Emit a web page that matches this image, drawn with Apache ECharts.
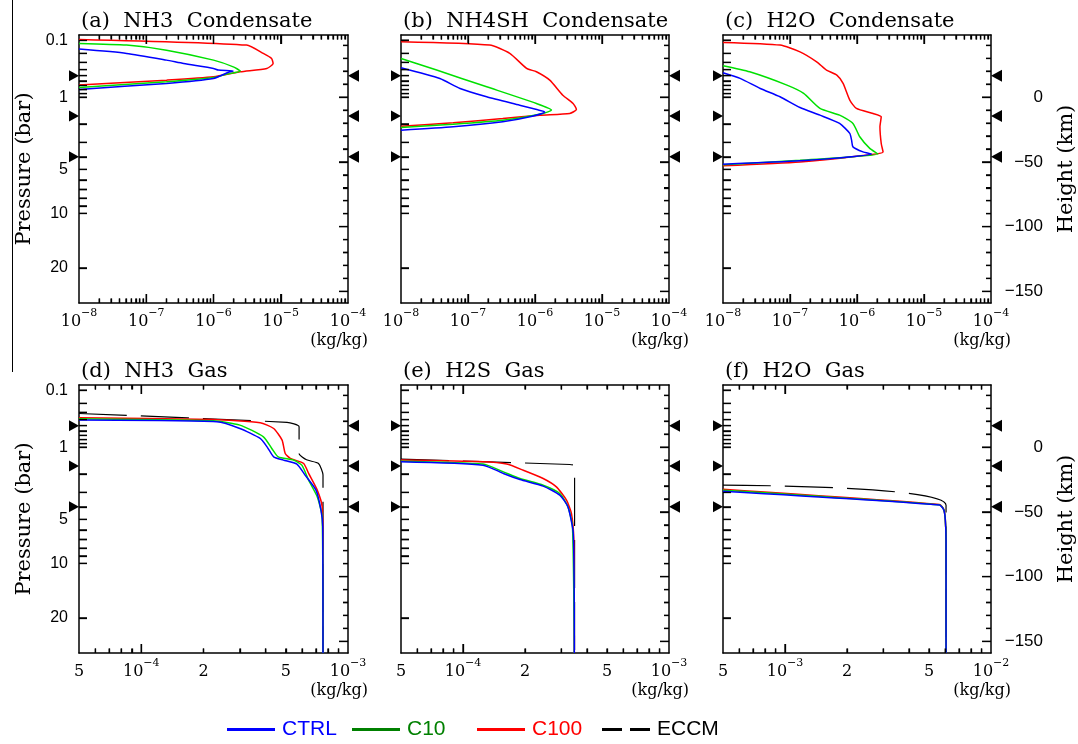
<!DOCTYPE html>
<html>
<head>
<meta charset="utf-8">
<title>Condensate and gas profiles</title>
<script src="https://cdn.jsdelivr.net/npm/echarts@6/dist/echarts.min.js"></script>
<style>
  html, body { margin: 0; padding: 0; background: #fff; }
  #chart { width: 1078px; height: 744px; }
</style>
</head>
<body>
<div id="chart"></div>
<script>
// ---------- vertical coordinate: height (km) with pressure (bar) marked on the left ----------
const H0 = 26.7, KAPPA = 0.31;           // scale height at 1 bar and T ~ p^kappa
function heightOf(p) { return -H0 * (Math.pow(p, KAPPA) - 1) / KAPPA; }

const heightRange = [-159, 48];
const pressureTicks = [0.1, 0.2, 0.3, 0.4, 0.5, 0.6, 0.7, 0.8, 0.9, 1, 2, 3, 4, 5, 6, 7, 8, 9, 10, 20];
const pressureLabels = [0.1, 1, 5, 10, 20];
const heightMinorTicks = [-140, -130, -120, -110, -90, -80, -70, -60, -40, -30, -20, -10, 10, 20, 30, 40];
const heightLabels = [0, -50, -100, -150];
const cloudBaseHeights = [16.5, -14.6, -46];   // levels marked with triangles

// ---------- mixing-ratio tick labels ----------
const condTicks = [1e-8, 1e-7, 1e-6, 1e-5, 1e-4];
const lowGasTicks = [5e-5, 1e-4, 2e-4, 5e-4, 1e-3];
const h2oGasTicks = [5e-4, 1e-3, 2e-3, 5e-3, 1e-2];

// ---------- profiles: [mixing ratio (kg/kg), height (km)] ----------
const aCTRL = [[1e-8,37.1],[5.1e-8,33.8],[2e-7,28.6],[3.6e-7,26],[1e-6,22.2],[1.18e-6,20.9],[1.97e-6,20.1],[1.6e-6,18.8],[1e-6,14.4],[2e-7,10.6],[1e-8,6]];
const aC10 = [[1e-8,41.5],[5.1e-8,40.2],[2e-7,36.3],[1e-6,28.6],[1.97e-6,23.4],[2.5e-6,20.1],[1.6e-6,17.8],[1e-6,15.2],[2e-7,11.9],[1e-8,7.5]];
const aC100 = [[1e-8,44.6],[3.1e-6,40.2],[5.5e-6,33.8],[7.3e-6,29.9],[7.7e-6,26],[6.2e-6,22.2],[2.5e-6,19.6],[1e-6,15.7],[2e-7,13.1],[1e-8,9.3]];

const bCTRL = [[1e-8,22.7],[3.8e-8,14.4],[7.6e-8,6.7],[1.9e-7,0.3],[5.9e-7,-6.2],[1.1e-6,-9.8],[1.4e-6,-11.4],[8.4e-7,-15.2],[3.3e-7,-19],[6e-8,-22.9],[1e-8,-25.5]];
const bC10 = [[1e-8,29.9],[3.4e-8,20.9],[1.9e-7,8],[1.05e-6,-4.9],[1.76e-6,-10],[1.32e-6,-12.6],[3.3e-7,-17.8],[6e-8,-20.9],[1e-8,-23.4]];
const bC100 = [[1e-8,42.8],[2.1e-7,40.2],[4.2e-7,33.8],[7.5e-7,22.2],[1.05e-6,19.6],[1.66e-6,13.1],[2.6e-6,1.5],[3.7e-6,-4.9],[4.15e-6,-9.5],[3.3e-6,-12.6],[1.18e-6,-13.9],[3.3e-7,-16.5],[6e-8,-19.8],[1e-8,-22.4]];

const cCTRL = [[1e-8,18.9],[1.8e-8,14.5],[3.6e-8,6.7],[7.1e-8,0.3],[1.41e-7,-8],[2.8e-7,-13.9],[5.5e-7,-20.3],[7.8e-7,-28],[8.3e-7,-33.2],[8.7e-7,-38.4],[1.23e-6,-42.3],[1.65e-6,-44],[1.41e-7,-49.2],[1e-8,-51.8]];
const cC10 = [[1e-8,24.3],[2.5e-8,19.6],[9e-8,9.3],[1.6e-7,2.9],[2.8e-7,-8.7],[5.5e-7,-13.9],[8.7e-7,-20.3],[1.1e-6,-30.6],[1.55e-6,-39.6],[2.06e-6,-44],[1.41e-7,-48.7],[1e-8,-52.3]];
const cC100 = [[1e-8,42.3],[7.1e-8,40.2],[1.41e-7,35],[2.5e-7,27.3],[3.5e-7,20.9],[5e-7,17],[6.2e-7,10.6],[7.8e-7,-2.3],[9.8e-7,-8.7],[1.74e-6,-12.6],[2.3e-6,-15.2],[2.2e-6,-22.9],[2.3e-6,-35.8],[2.45e-6,-42.3],[9.8e-7,-45.6],[1.41e-7,-50],[1e-8,-53]];

const dECCM = [[5e-5,26],[5.07e-4,19.1],[5.8e-4,15.7],[5.8e-4,-4.9],[6.3e-4,-9.8],[7.2e-4,-12.6],[7.57e-4,-21.6],[7.57e-4,-159]];
const dCTRL = [[5e-5,20.9],[2.32e-4,19.6],[3.0e-4,14.4],[3.76e-4,6.7],[4.06e-4,0.2],[4.37e-4,-7.5],[4.87e-4,-10],[5.66e-4,-13.1],[6.2e-4,-21.6],[7.0e-4,-33.2],[7.4e-4,-48.7],[7.55e-4,-61.6],[7.57e-4,-159]];
const dC10 = [[5e-5,21.9],[2.23e-4,20.3],[3.0e-4,17],[3.9e-4,8],[4.28e-4,-1],[4.6e-4,-7.5],[5.45e-4,-10],[5.98e-4,-13.9],[6.45e-4,-25.5],[7.1e-4,-38.4],[7.5e-4,-53.9],[7.57e-4,-159]];
const dC100 = [[5e-5,22.7],[2.23e-4,21.4],[3.76e-4,18.8],[4.37e-4,14.4],[4.8e-4,5.4],[4.97e-4,-4.9],[5.26e-4,-8.7],[6.1e-4,-12.6],[6.45e-4,-20.3],[7.1e-4,-33.2],[7.5e-4,-46.1],[7.57e-4,-92.5],[7.57e-4,-159]];

const eECCM = [[5e-5,-9.3],[3.3e-4,-13.4],[3.48e-4,-14.5],[3.48e-4,-159]];
const eCTRL = [[5e-5,-11.3],[1.25e-4,-13.9],[1.57e-4,-20.3],[1.89e-4,-25],[2.45e-4,-30.1],[2.95e-4,-37.1],[3.23e-4,-46.1],[3.43e-4,-66.7],[3.47e-4,-159]];
const eC10 = [[5e-5,-10.8],[1.25e-4,-13.1],[1.57e-4,-19.1],[1.89e-4,-24.2],[2.45e-4,-29.4],[2.95e-4,-35.8],[3.23e-4,-46.1],[3.4e-4,-61.6],[3.47e-4,-159]];
const eC100 = [[5e-5,-10],[1.25e-4,-11.3],[1.63e-4,-13.1],[1.96e-4,-17.8],[2.45e-4,-24.2],[2.84e-4,-30.7],[3.18e-4,-41],[3.36e-4,-51.2],[3.45e-4,-71.9],[3.47e-4,-159]];

const fECCM = [[5e-4,-29.4],[6.05e-3,-44.8],[6.05e-3,-159]];
const fCTRL = [[5e-4,-34],[5.62e-3,-44.6],[5.9e-3,-48.5],[6.0e-3,-56],[6.05e-3,-72],[6.05e-3,-159]];
const fC10 = [[5e-4,-33.2],[5.62e-3,-44.5],[5.9e-3,-48.3],[6.0e-3,-56],[6.05e-3,-72],[6.05e-3,-159]];
const fC100 = [[5e-4,-32.5],[5.62e-3,-44.3],[5.9e-3,-48],[6.0e-3,-56],[6.05e-3,-72],[6.05e-3,-159]];

// ---------- runs ----------
const runNames = ['CTRL', 'C10', 'C100', 'ECCM'];
const lineColors = { CTRL: '#0000ff', C10: '#00e000', C100: '#ff0000', ECCM: '#000000' };
const legendColors = { CTRL: '#0000ff', C10: '#008000', C100: '#ff0000', ECCM: '#000000' };

const panels = [
  { title: '(a)  NH3  Condensate', col: 0, row: 0, ticks: condTicks,  runs: { C100: aC100, C10: aC10, CTRL: aCTRL } },
  { title: '(b)  NH4SH  Condensate', col: 1, row: 0, ticks: condTicks, runs: { C100: bC100, C10: bC10, CTRL: bCTRL } },
  { title: '(c)  H2O  Condensate', col: 2, row: 0, ticks: condTicks,  runs: { C100: cC100, C10: cC10, CTRL: cCTRL } },
  { title: '(d)  NH3  Gas', col: 0, row: 1, ticks: lowGasTicks, runs: { ECCM: dECCM, C100: dC100, C10: dC10, CTRL: dCTRL } },
  { title: '(e)  H2S  Gas', col: 1, row: 1, ticks: lowGasTicks, runs: { ECCM: eECCM, C100: eC100, C10: eC10, CTRL: eCTRL } },
  { title: '(f)  H2O  Gas', col: 2, row: 1, ticks: h2oGasTicks, runs: { ECCM: fECCM, C100: fC100, C10: fC10, CTRL: fCTRL } }
];

// ---------- layout ----------
const GRID_LEFT = [79, 401, 723];
const GRID_WIDTH = [269, 268, 269];
const GRID_TOP = [35, 385];
const GRID_HEIGHT = 268;

const SERIF = "'DejaVu Serif', 'Liberation Serif', serif";
const SANS = "'Liberation Sans', Arial, sans-serif";
const MINUS = '\u2212';

const key = v => v.toFixed(4);

// x axis: log10 of the mixing ratio on a linear value axis
function xTickLabel(v) {
  const e = Math.floor(Math.log10(v) + 1e-9);
  const m = Math.round(v / Math.pow(10, e));
  if (m === 1) return '{b|10}{s|' + MINUS + Math.abs(e) + '}';
  return '{b|' + m + '}';
}
function decadeTicks(lo, hi) {
  const major = [], minor = [];
  for (let e = Math.floor(lo) - 1; e <= Math.ceil(hi); e++) {
    if (e > lo + 1e-6 && e < hi - 1e-6) major.push(e);
    for (let k = 2; k <= 9; k++) {
      const t = e + Math.log10(k);
      if (t > lo + 1e-6 && t < hi - 1e-6) minor.push(t);
    }
  }
  return { major, minor };
}

const pressureLabelMap = {};
pressureLabels.forEach(p => { pressureLabelMap[key(heightOf(p))] = String(p); });

const option = {
  animation: false,
  backgroundColor: '#ffffff',
  title: [], grid: [], xAxis: [], yAxis: [], series: [], legend: [],
  graphic: [{
    type: 'line', silent: true,
    shape: { x1: 12.5, y1: 0, x2: 12.5, y2: 372 },
    style: { stroke: '#000', lineWidth: 1 }
  }]
};

const AXIS_LINE = { show: true, onZero: false, lineStyle: { color: '#000', width: 1.5 } };
const TICK_STYLE = { color: '#000', width: 1.3, type: 'solid' };

panels.forEach(p => {
  const rect = { left: GRID_LEFT[p.col], top: GRID_TOP[p.row], width: GRID_WIDTH[p.col], height: GRID_HEIGHT };
  const g = option.grid.length;
  option.grid.push(Object.assign({}, rect));

  const tickLogs = p.ticks.map(v => Math.log10(v));
  const lo = tickLogs[0], hi = tickLogs[tickLogs.length - 1];
  const { major, minor } = decadeTicks(lo, hi);
  const labelMap = {};
  p.ticks.forEach(v => { labelMap[key(Math.log10(v))] = xTickLabel(v); });

  // data units per pixel, so tick lengths can be given in pixels
  const xPerPx = (hi - lo) / rect.width;
  const yPerPx = (heightRange[1] - heightRange[0]) / rect.height;

  option.title.push({
    text: p.title, left: rect.left - 3, top: rect.top - 29,
    textStyle: { fontFamily: SERIF, fontSize: 21, fontWeight: 'normal', color: '#000' }
  });

  const xBottom = option.xAxis.length;
  option.xAxis.push({
    type: 'value', gridIndex: g, position: 'bottom', min: lo, max: hi,
    axisLine: AXIS_LINE, axisTick: { show: false },
    axisLabel: {
      show: true, customValues: tickLogs, margin: 5, color: '#000',
      formatter: v => labelMap[key(v)] || '',
      rich: {
        b: { fontFamily: SERIF, fontSize: 16, lineHeight: 22, color: '#000', verticalAlign: 'bottom' },
        s: { fontFamily: SERIF, fontSize: 11, lineHeight: 11, color: '#000', verticalAlign: 'top' }
      }
    },
    splitLine: { show: false },
    name: '(kg/kg)', nameLocation: 'end', nameGap: 20,
    nameTextStyle: { fontFamily: SERIF, fontSize: 16, color: '#000', align: 'right', verticalAlign: 'top', padding: [30, 0, 0, 0] }
  });
  option.xAxis.push({
    type: 'value', gridIndex: g, position: 'top', min: lo, max: hi,
    axisLine: AXIS_LINE, axisTick: { show: false },
    axisLabel: { show: false }, splitLine: { show: false }
  });

  const yLeft = option.yAxis.length;
  option.yAxis.push({
    type: 'value', gridIndex: g, position: 'left', min: heightRange[0], max: heightRange[1],
    axisLine: AXIS_LINE, axisTick: { show: false },
    axisLabel: p.col === 0 ? {
      show: true, customValues: pressureLabels.map(heightOf), margin: 11,
      fontFamily: SANS, fontSize: 16, color: '#000',
      formatter: v => pressureLabelMap[key(v)] || ''
    } : { show: false },
    splitLine: { show: false },
    name: p.col === 0 ? 'Pressure (bar)' : '', nameLocation: 'middle', nameGap: 44, nameRotate: 90,
    nameTextStyle: { fontFamily: SERIF, fontSize: 21, color: '#000' }
  });
  option.yAxis.push({
    type: 'value', gridIndex: g, position: 'right', min: heightRange[0], max: heightRange[1],
    axisLine: AXIS_LINE, axisTick: { show: false },
    axisLabel: p.col === 2 ? {
      show: true, customValues: heightLabels, margin: 52, align: 'right',
      fontFamily: SANS, fontSize: 17, color: '#000',
      formatter: v => String(v).replace('-', MINUS)
    } : { show: false },
    splitLine: { show: false },
    name: p.col === 2 ? 'Height (km)' : '', nameLocation: 'middle', nameGap: 65, nameRotate: 90,
    nameTextStyle: { fontFamily: SERIF, fontSize: 21, color: '#000' }
  });

  // inward tick marks as short segments in data coordinates
  const zBot = heightRange[0], zTop = heightRange[1];
  const tickSegs = [];
  major.forEach(t => {
    tickSegs.push([[t, zBot], [t, zBot + 9 * yPerPx]], [[t, zTop], [t, zTop - 9 * yPerPx]]);
  });
  minor.forEach(t => {
    tickSegs.push([[t, zBot], [t, zBot + 4.5 * yPerPx]], [[t, zTop], [t, zTop - 4.5 * yPerPx]]);
  });
  pressureTicks.forEach(pr => {
    const z = heightOf(pr);
    tickSegs.push([[lo, z], [lo + 8 * xPerPx, z]]);
  });
  heightLabels.forEach(z => { tickSegs.push([[hi, z], [hi - 9 * xPerPx, z]]); });
  heightMinorTicks.forEach(z => { tickSegs.push([[hi, z], [hi - 5 * xPerPx, z]]); });

  const tickMarkLine = {
    silent: true, animation: false, symbol: ['none', 'none'],
    label: { show: false }, emphasis: { disabled: true },
    lineStyle: TICK_STYLE,
    data: tickSegs.map(([a, b]) => [{ coord: a }, { coord: b }])
  };

  // tick marks also as a named segment series
  const tickPts = [];
  tickSegs.forEach(([a, b]) => { tickPts.push(a, b, null); });
  option.series.push({
    type: 'line', name: 'ticks', xAxisIndex: xBottom, yAxisIndex: yLeft, silent: true,
    data: tickPts, showSymbol: false, symbol: 'none', connectNulls: false,
    color: '#000', lineStyle: TICK_STYLE
  });

  // profiles
  Object.keys(p.runs).forEach(name => {
    option.series.push({
      type: 'line', name: name,
      xAxisIndex: xBottom, yAxisIndex: yLeft,
      data: p.runs[name].map(([v, z]) => [Math.log10(v), z]),
      showSymbol: false, symbol: 'none', smooth: 0.2, silent: true,
      color: lineColors[name],
      lineStyle: { color: lineColors[name], width: name === 'ECCM' ? 1.2 : 1.5, type: name === 'ECCM' ? [48, 14] : 'solid' },
      markLine: name === 'CTRL' ? tickMarkLine : undefined
    });
  });

  // cloud-base markers on both sides
  option.series.push({
    type: 'scatter', xAxisIndex: xBottom, yAxisIndex: yLeft, silent: true, clip: false,
    data: cloudBaseHeights.map(z => [lo, z]),
    symbol: 'triangle', symbolSize: [11, 10], symbolRotate: -90, symbolOffset: [-5, 0],
    itemStyle: { color: '#000', opacity: 1 }
  });
  option.series.push({
    type: 'scatter', xAxisIndex: xBottom, yAxisIndex: yLeft, silent: true, clip: false,
    data: cloudBaseHeights.map(z => [hi, z]),
    symbol: 'triangle', symbolSize: [12, 11], symbolRotate: 90, symbolOffset: [5.5, 0],
    itemStyle: { color: '#000', opacity: 1 }
  });
});

// legend row
const legendLeft = [227, 352, 477, 602];
const solidIcon = 'path://M0,0H48V3H0Z';
const dashIcon = 'path://M0,0H20V3H0ZM28,0H48V3H28Z';
runNames.forEach((name, i) => {
  option.legend.push({
    show: true, left: legendLeft[i], top: 719, padding: 0, itemGap: 0,
    itemWidth: 48, itemHeight: 3, selectedMode: false,
    textStyle: { fontFamily: "'Liberation Sans Narrow', 'Liberation Sans', Arial, sans-serif", fontSize: 21, color: legendColors[name], padding: [0, 0, 0, 2] },
    data: [{
      name: name,
      icon: name === 'ECCM' ? dashIcon : solidIcon,
      itemStyle: { color: legendColors[name], borderWidth: 0 },
      textStyle: { color: legendColors[name] }
    }]
  });
});

const chart = echarts.init(document.getElementById('chart'), null, { renderer: 'canvas' });
chart.setOption(option);
</script>
</body>
</html>
